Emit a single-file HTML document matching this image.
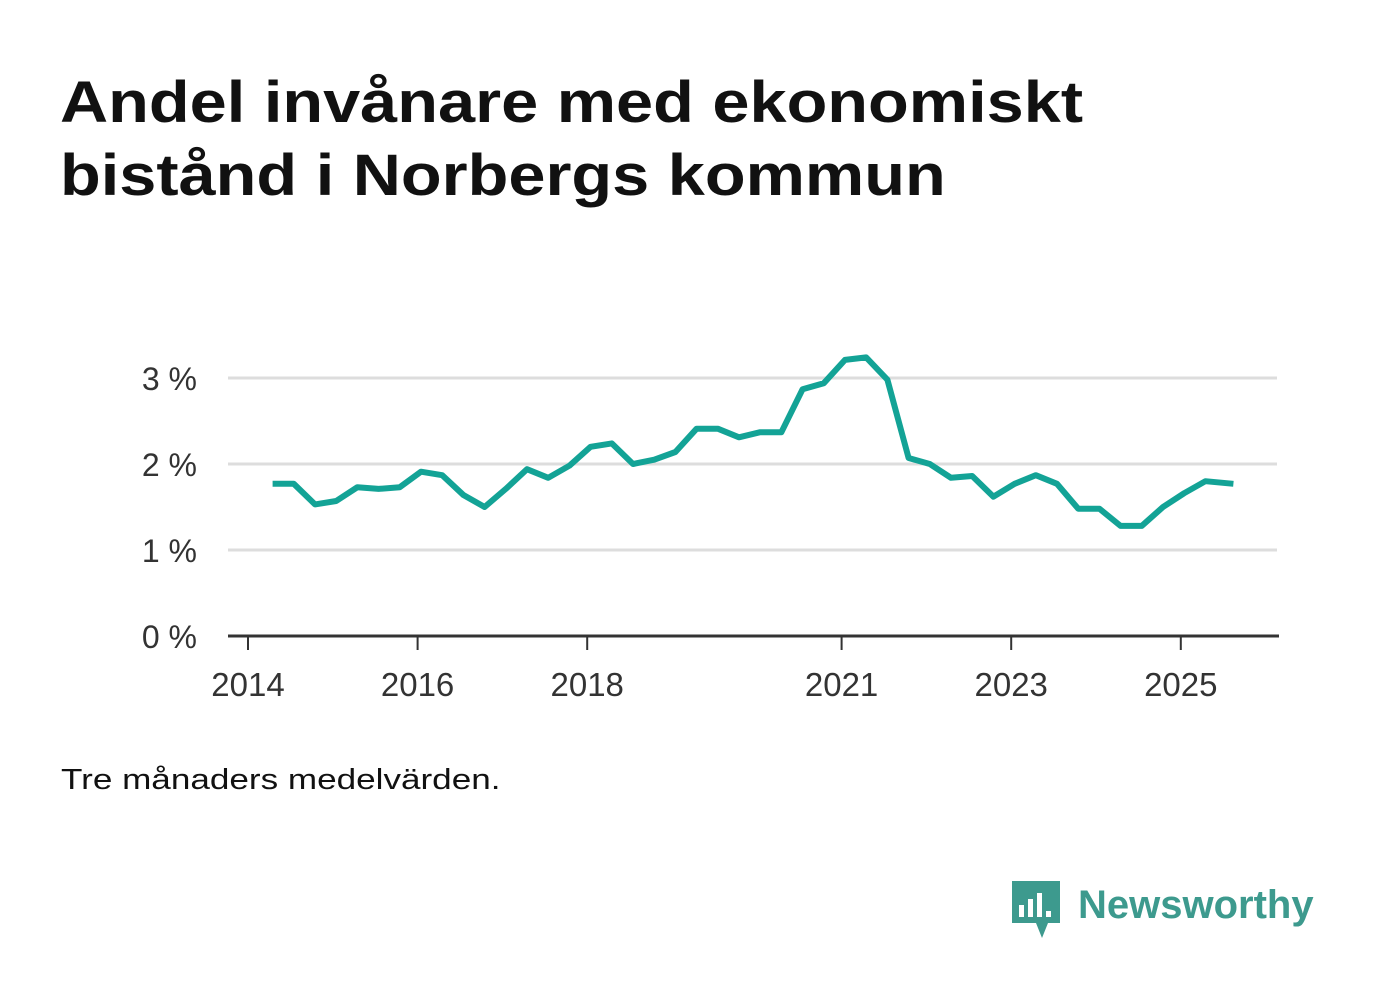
<!DOCTYPE html>
<html><head><meta charset="utf-8"><style>
body{margin:0;background:#fff;width:1382px;height:999px;overflow:hidden;font-family:"Liberation Sans",sans-serif}
h1{position:absolute;left:60px;top:66px;margin:0;font-size:58px;line-height:73px;font-weight:bold;color:#111;transform:scaleX(1.15);transform-origin:left top;white-space:nowrap}
.note{position:absolute;left:61px;top:764px;font-size:29px;color:#111;transform:scaleX(1.21);transform-origin:left top;white-space:nowrap}
svg{position:absolute;left:0;top:0}
</style></head><body>
<h1>Andel invånare med ekonomiskt<br>bistånd i Norbergs kommun</h1>
<div class="note">Tre månaders medelvärden.</div>
<svg id="chart" width="1382" height="999"></svg>
<svg width="1382" height="999" style="pointer-events:none">
<path d="M1012 881h48v42h-12l-6 15-6-15h-24z" fill="#3d9a8e"/>
<rect x="1019" y="905" width="5" height="12" fill="#fff"/><rect x="1028" y="899" width="5" height="18" fill="#fff"/><rect x="1037" y="893" width="5" height="24" fill="#fff"/><rect x="1046" y="911" width="5" height="6" fill="#fff"/>
<text x="1078" y="918" font-size="40" font-weight="bold" fill="#3d9a8e" font-family="Liberation Sans, sans-serif">Newsworthy</text>
</svg>
<script>
const values=[1.77,1.77,1.53,1.57,1.73,1.71,1.73,1.91,1.87,1.64,1.50,1.71,1.94,1.84,1.98,2.20,2.24,2.00,2.05,2.14,2.41,2.41,2.31,2.37,2.37,2.87,2.94,3.21,3.24,2.98,2.07,2.00,1.84,1.86,1.62,1.77,1.87,1.77,1.48,1.48,1.28,1.28,1.50,1.66,1.80,1.77];
const startYear=2014.29;
const yTicks=[0,1,2,3];
const yTickLabels=["0 %","1 %","2 %","3 %"];
const xTicks=[2014,2016,2018,2021,2023,2025];
const ns="http://www.w3.org/2000/svg";
const svg=document.getElementById('chart');
const X=t=>248+(t-2014)*84.8;
const Y=v=>636-v*86;
function el(tag,attrs,text){const e=document.createElementNS(ns,tag);for(const k in attrs)e.setAttribute(k,attrs[k]);if(text!==undefined)e.textContent=text;svg.appendChild(e);return e;}
yTicks.forEach((v,i)=>{
 if(v>0){const g=el('line',{x1:228,x2:1277,y1:Y(v),y2:Y(v),stroke:'#ddd','stroke-width':3});
 
 }
 const t=el('text',{x:197,y:Y(v)+12,'text-anchor':'end','font-size':32,fill:'#333','font-family':'Liberation Sans, sans-serif'},yTickLabels[i]);
 
 
});
const ax=el('line',{x1:228,x2:1279,y1:636,y2:636,stroke:'#333','stroke-width':3});


xTicks.forEach(yr=>{
 const tk=el('line',{x1:X(yr),x2:X(yr),y1:636,y2:650,stroke:'#333','stroke-width':2});
 
 
 const t=el('text',{x:X(yr),y:696,'text-anchor':'middle','font-size':33,fill:'#333','font-family':'Liberation Sans, sans-serif'},String(yr));
 
 
});
const pts=values.map((v,i)=>X(startYear+i*0.25+(i===values.length-1?0.08:0)).toFixed(1)+','+Y(v).toFixed(1)).join(' ');
const line=el('polyline',{points:pts,fill:'none',stroke:'#13a396','stroke-width':6,'stroke-linejoin':'round'});


</script>
</body></html>
